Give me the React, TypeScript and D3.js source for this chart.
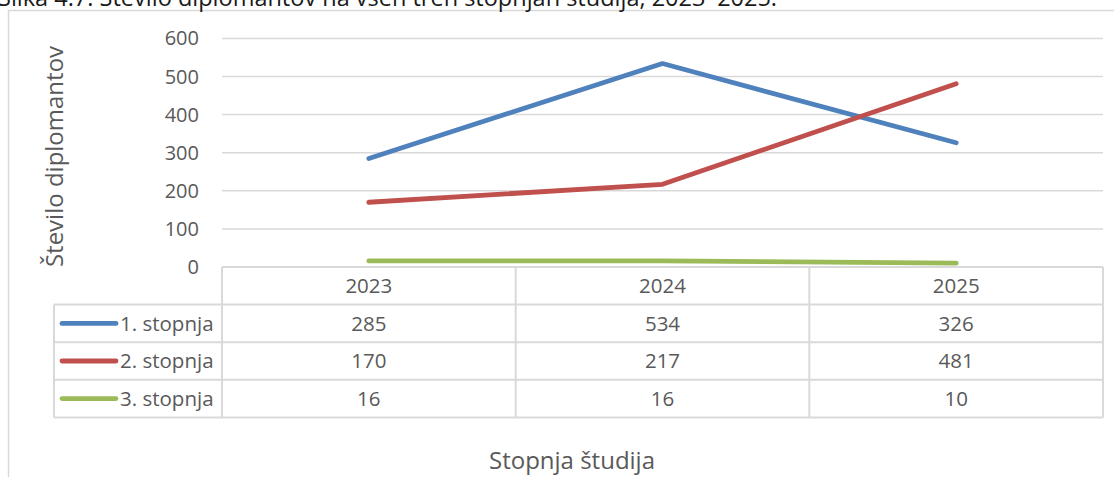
import React, { useEffect, useRef } from "react";
import * as d3 from "d3";

const years = ["2023", "2024", "2025"];
const seriesNames = ["1. stopnja", "2. stopnja", "3. stopnja"];
const stopnja1 = [285, 534, 326];
const stopnja2 = [170, 217, 481];
const stopnja3 = [16, 16, 10];
const yTicks = [0, 100, 200, 300, 400, 500, 600];
const colors = ["#4F81BD", "#C0504D", "#9BBB59"];

const W = 1114;
const H = 477;
const FONT = "'Open Sans', 'Noto Sans', sans-serif";

const App = () => {
  const ref = useRef<SVGSVGElement | null>(null);

  useEffect(() => {
    if (!ref.current) return;
    const svg = d3.select(ref.current);
    svg.selectAll("*").remove();

    const series = [stopnja1, stopnja2, stopnja3].map((values, i) => ({
      name: seriesNames[i],
      values,
      color: colors[i],
    }));

    const plotLeft = 222;
    const plotRight = 1103;
    const plotTop = 38.4;
    const plotBottom = 267;
    const rowH = 37.6;
    const legendLeft = 54;
    const grid = "#d9d9d9";
    const textCol = "#595959";

    const x = d3.scaleBand<string>().domain(years).range([plotLeft, plotRight]);
    const y = d3.scaleLinear().domain([0, 600]).range([plotBottom, plotTop]);

    // outer frame
    svg
      .append("rect")
      .attr("x", 8.5)
      .attr("y", 10.5)
      .attr("width", W + 20)
      .attr("height", H + 20)
      .attr("fill", "#fff")
      .attr("stroke", grid)
      .attr("stroke-width", 1.5);

    // caption above the frame, cut off by the top edge as in the source
    svg
      .append("text")
      .attr("x", -2)
      .attr("y", 6)
      .style("font-family", FONT)
      .style("font-size", "23.5px")
      .style("fill", "#1a1a1a")
      .text("Slika 4.7: Število diplomantov na vseh treh stopnjah študija, 2023–2025.");

    // gridlines + tick labels
    yTicks.forEach(t => {
      if (t > 0) {
        svg
          .append("line")
          .attr("x1", plotLeft)
          .attr("x2", plotRight)
          .attr("y1", y(t))
          .attr("y2", y(t))
          .attr("stroke", grid)
          .attr("stroke-width", 1.5);
      }
      svg
        .append("text")
        .attr("x", 199)
        .attr("y", y(t))
        .attr("dy", "0.35em")
        .attr("text-anchor", "end")
        .style("font-family", FONT)
        .style("font-size", "20px")
        .style("fill", textCol)
        .text(t);
    });

    // data table
    const tableBottom = plotBottom + rowH * 4;
    const hLines: [number, number, number][] = [
      [plotLeft, plotRight, plotBottom],
      [legendLeft, plotRight, plotBottom + rowH],
      [legendLeft, plotRight, plotBottom + rowH * 2],
      [legendLeft, plotRight, plotBottom + rowH * 3],
      [legendLeft, plotRight, tableBottom],
    ];
    hLines.forEach(([x1, x2, yy]) => {
      svg
        .append("line")
        .attr("x1", x1)
        .attr("x2", x2)
        .attr("y1", yy)
        .attr("y2", yy)
        .attr("stroke", grid)
        .attr("stroke-width", 2);
    });
    const vLines = [plotLeft, ...years.map(d => (x(d) as number) + x.bandwidth()).slice(0, 2), plotRight];
    vLines.forEach(xx => {
      svg
        .append("line")
        .attr("x1", xx)
        .attr("x2", xx)
        .attr("y1", plotBottom)
        .attr("y2", tableBottom)
        .attr("stroke", grid)
        .attr("stroke-width", 2);
    });
    svg
      .append("line")
      .attr("x1", legendLeft)
      .attr("x2", legendLeft)
      .attr("y1", plotBottom + rowH)
      .attr("y2", tableBottom)
      .attr("stroke", grid)
      .attr("stroke-width", 2);

    const cx = (d: string) => (x(d) as number) + x.bandwidth() / 2;

    years.forEach(yr => {
      svg
        .append("text")
        .attr("x", cx(yr))
        .attr("y", plotBottom + rowH / 2)
        .attr("dy", "0.35em")
        .attr("text-anchor", "middle")
        .style("font-family", FONT)
        .style("font-size", "20.5px")
        .style("fill", textCol)
        .text(yr);
    });

    series.forEach((s, i) => {
      const rowMid = plotBottom + rowH * (i + 1) + rowH / 2;
      svg
        .append("line")
        .attr("x1", 62)
        .attr("x2", 116)
        .attr("y1", rowMid)
        .attr("y2", rowMid)
        .attr("stroke", s.color)
        .attr("stroke-width", 4.8)
        .attr("stroke-linecap", "round");
      svg
        .append("text")
        .attr("x", 120)
        .attr("y", rowMid)
        .attr("dy", "0.35em")
        .style("font-family", FONT)
        .style("font-size", "20.5px")
        .style("fill", textCol)
        .text(s.name);
      s.values.forEach((v, j) => {
        svg
          .append("text")
          .attr("x", cx(years[j]))
          .attr("y", rowMid)
          .attr("dy", "0.35em")
          .attr("text-anchor", "middle")
          .style("font-family", FONT)
          .style("font-size", "20.5px")
          .style("fill", textCol)
          .text(v);
      });
    });

    // lines
    const line = d3
      .line<number>()
      .x((_, j) => cx(years[j]))
      .y(d => y(d));

    series.forEach(s => {
      svg
        .append("path")
        .datum(s.values)
        .attr("fill", "none")
        .attr("stroke", s.color)
        .attr("stroke-width", 4.8)
        .attr("stroke-linecap", "round")
        .attr("stroke-linejoin", "round")
        .attr("d", line);
    });

    // axis titles
    svg
      .append("text")
      .attr("transform", `translate(63,${(45 + 268) / 2}) rotate(-90)`)
      .attr("text-anchor", "middle")
      .style("font-family", FONT)
      .style("font-size", "24px")
      .style("fill", textCol)
      .text("Število diplomantov");

    svg
      .append("text")
      .attr("x", 572)
      .attr("y", 469)
      .attr("text-anchor", "middle")
      .style("font-family", FONT)
      .style("font-size", "24px")
      .style("fill", textCol)
      .text("Stopnja študija");
  }, []);

  return (
    <div style={{ position: "absolute", left: 0, top: 0 }}>
      <svg ref={ref} width={W} height={H} style={{ display: "block" }} />
    </div>
  );
};

export default App;
